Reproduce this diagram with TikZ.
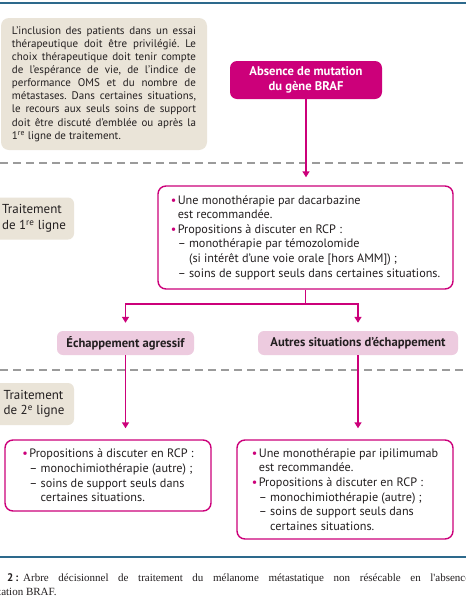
\documentclass[tikz,border=0pt]{standalone}
\usepackage{fontspec}
\setmainfont{PT Sans}
\newfontfamily\legende{Liberation Serif}
\usetikzlibrary{arrows.meta}
\frenchspacing

\definecolor{rose}{RGB}{204,0,122}
\definecolor{rosepale}{RGB}{237,203,223}
\definecolor{beige}{RGB}{234,228,216}
\definecolor{bleu}{RGB}{45,105,140}
\definecolor{texte}{RGB}{35,31,32}
\definecolor{tirets}{RGB}{155,155,155}

\newcommand{\puce}{\makebox[7pt][l]{\color{rose}\textbullet}}
\newcommand{\retrait}{\hspace*{7pt}}

\tikzset{
  note/.style={fill=beige, rounded corners=8pt, text=texte, inner sep=0pt, align=justify},
  ligne/.style={fill=beige, rounded corners=6pt, text=texte, align=left, font=\fontsize{13}{15.5}\selectfont, minimum width=80pt, minimum height=42pt},
  titre/.style={fill=rose, rounded corners=7pt, text=white, align=center, font=\bfseries\fontsize{12.6}{15}\selectfont, minimum width=152pt, minimum height=38pt},
  choix/.style={draw=rose, line width=1.4pt, rounded corners=8pt, fill=white, text=texte, align=left, inner sep=0pt, font=\fontsize{12.2}{14.6}\selectfont},
  issue/.style={fill=rosepale, rounded corners=6pt, text=texte, font=\bfseries\fontsize{12.6}{13}\selectfont, minimum height=24pt},
  trait/.style={draw=rose, line width=1.4pt},
  fleche/.style={trait, -{Triangle[width=7pt,length=6pt]}, shorten >=8pt},
  separation/.style={draw=tirets, line width=1.2pt, dash pattern=on 8pt off 5pt},
  filet/.style={draw=bleu, line width=1.5pt},
}

\begin{document}
\begin{tikzpicture}[x=1pt,y=-1pt]
\useasboundingbox (0,0) rectangle (466,600);
\fill[white] (0,0) rectangle (466,600);
\draw[filet] (0,3) -- (466,3);
\draw[filet] (0,557) -- (466,557);
\draw[separation] (0,163) -- (466,163);
\draw[separation] (0,370) -- (466,370);

\node[note, text width=184pt, minimum width=206pt, minimum height=132pt, font=\fontsize{11}{13.1}\selectfont] (essai) at (104,84) {L’inclusion des patients dans un essai\linebreak
thérapeutique doit être privilégié. Le\linebreak
choix thérapeutique doit tenir compte\linebreak
de l’espérance de vie, de l’indice de\linebreak
performance OMS et du nombre de\linebreak
métastases. Dans certaines situations,\linebreak
le recours aux seuls soins de support\linebreak
doit être discuté d’emblée ou après la\linebreak
1\textsuperscript{re} ligne de traitement.};

\node[titre] (braf) at (306,80) {Absence de mutation\\du gène BRAF};

\node[ligne] (ligne1) at (34,218.5) {Traitement\\de 1\textsuperscript{re} ligne};
\node[ligne] (ligne2) at (34,404) {Traitement\\de 2\textsuperscript{e} ligne};

\node[choix, minimum width=295pt, minimum height=103pt] (premiere) at (305.5,237.5) {\puce Une monothérapie par dacarbazine\\
\retrait est recommandée.\\
\puce Propositions à discuter en RCP :\\
\retrait – monothérapie par témozolomide\\
\retrait\phantom{–} (si intérêt d’une voie orale [hors AMM]) ;\\
\retrait – soins de support seuls dans certaines situations.};

\coordinate (fourche) at (305.5,304);
\node[issue, minimum width=137pt] (agressif) at (125.5,343) {Échappement agressif};
\node[issue, minimum width=200pt] (autres) at (358,343) {Autres situations d’échappement};

\node[choix, minimum width=206pt, minimum height=71pt] (deuxg) at (108,475.5) {\puce Propositions à discuter en RCP :\\
\retrait – monochimiothérapie (autre) ;\\
\retrait – soins de support seuls dans\\
\retrait\phantom{–} certaines situations.};
\node[choix, minimum width=216pt, minimum height=99pt] (deuxd) at (345,489.5) {\puce Une monothérapie par ipilimumab\\
\retrait est recommandée.\\
\puce Propositions à discuter en RCP :\\
\retrait – monochimiothérapie (autre) ;\\
\retrait – soins de support seuls dans\\
\retrait\phantom{–} certaines situations.};

\draw[fleche] (braf.south) -- (braf.south |- premiere.north);
\draw[trait] (premiere.south) -- (fourche);
\draw[fleche] (fourche) -| (agressif.north);
\draw[fleche] (fourche) -| (autres.north);
\draw[fleche, shorten >=11pt] (agressif.south) -- (agressif.south |- deuxg.north);
\draw[fleche, shorten >=11pt] (autres.south) -- (autres.south |- deuxd.north);

\node[anchor=base west, inner sep=0pt, text=texte, font=\legende\fontsize{11}{13}\selectfont] (legende1) at (7,581) {\makebox[463pt][s]{{\normalfont\bfseries 2\,:}\hspace{5pt}Arbre décisionnel de traitement du mélanome métastatique non résécable en l'absence}};
\node[anchor=base west, inner sep=0pt, text=texte, font=\legende\fontsize{11}{13}\selectfont] (legende2) at (-2,595) {tation BRAF.};
\end{tikzpicture}
\end{document}
